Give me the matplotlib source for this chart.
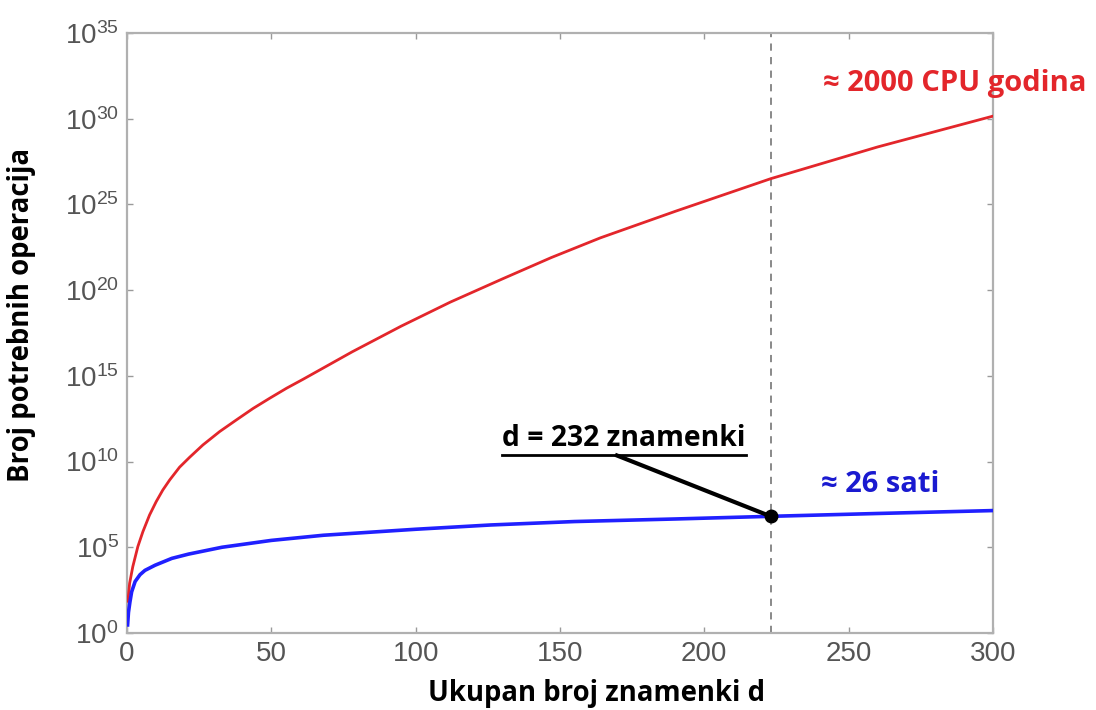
import numpy as np
import matplotlib
matplotlib.use('Agg')
import matplotlib.pyplot as plt
from matplotlib.lines import Line2D

# values (log10 of operation count)
d_red = [0.3, 0.9, 2.0, 3.75, 5.5, 7.8, 10.1, 12.4, 14.8, 18.2, 21.7, 26.3, 32.1, 37.9, 43.7,
         49.5, 55.3, 61, 78, 95, 112, 130, 147, 164, 190, 223, 260, 300]
log_red = [1.85, 2.9, 3.87, 5.04, 5.91, 6.88, 7.66, 8.34, 8.93, 9.67, 10.25, 10.97, 11.75, 12.43, 13.1,
           13.7, 14.28, 14.8, 16.4, 17.9, 19.3, 20.65, 21.9, 23.05, 24.6, 26.5, 28.35, 30.15]
d_blue = [0.2, 0.5, 1.0, 1.6, 2.8, 4.5, 6.2, 9.7, 15.5, 21.3, 32.9, 50, 68, 100, 126, 155, 190, 222, 260, 300]
log_blue = [0.47, 1.2, 1.8, 2.4, 3.0, 3.4, 3.65, 3.95, 4.35, 4.6, 5.0, 5.4, 5.7, 6.05, 6.3, 6.5, 6.65, 6.8, 6.97, 7.14]
d_mark = 223
x_ticks = [0, 50, 100, 150, 200, 250, 300]
y_exps = [0, 5, 10, 15, 20, 25, 30, 35]

red_txt = '≈ 2000 CPU godina'
blue_txt = '≈ 26 sati'
mark_txt = 'd = 232 znamenki'

fig = plt.figure(figsize=(10.96, 7.10), dpi=100)
ax = fig.add_axes([0.1159, 0.1085, 0.790, 0.845])

ax.plot(d_red, 10.0 ** np.array(log_red), color='#e3262b', lw=2.0, zorder=3)
ax.plot(d_blue, 10.0 ** np.array(log_blue), color='#2020ff', lw=2.6, zorder=3)
ax.axvline(d_mark, color='#808080', lw=1.3, ls=(0, (4, 3.5)), zorder=2)

ax.set_yscale('log')
ax.set_xlim(0, 300)
ax.set_ylim(1, 1e35)
ax.set_xticks(x_ticks)
ax.set_yticks([10.0 ** e for e in y_exps])
ax.set_yticklabels([r'$\mathdefault{10^{%d}}$' % e for e in y_exps])
ax.minorticks_off()
ax.tick_params(direction='in', length=4, width=1, colors='#9a9a9a',
               labelcolor='#555555', labelsize=20, top=True, right=True, pad=6)
for lab in ax.get_xticklabels() + ax.get_yticklabels():
    lab.set_family('Liberation Sans')
for sp in ax.spines.values():
    sp.set_color('#b0b0b0')
    sp.set_linewidth(1.6)

lab_font = dict(family='Open Sans', weight='bold', size=19.8)
fig.text(597 / 1096, 1 - 693 / 710, 'Ukupan broj znamenki d', ha='center', va='center', color='black', **lab_font)
fig.text(22 / 1096, 1 - 315 / 710, 'Broj potrebnih operacija', ha='center', va='center', rotation=90, color='black', **lab_font)

ann_font = dict(family='Open Sans', weight='bold', size=21)
fig.text(955 / 1096, 1 - 83 / 710, red_txt, ha='center', va='center', color='#e3262b', **ann_font)
fig.text(880 / 1096, 1 - 485 / 710, blue_txt, ha='center', va='center', color='#1a1ad0', **ann_font)

# marker point on blue curve, with leader line to the label
y_mark = 10 ** np.interp(d_mark, d_blue, log_blue)
ax.plot([d_mark], [y_mark], 'o', color='black', ms=9, zorder=5)
t = fig.text(624 / 1096, 1 - 439 / 710, mark_txt, ha='center', va='center', color='black',
             family='Open Sans', weight='bold', size=20.3)

fig.canvas.draw()
bb = t.get_window_extent()
uy = bb.y0 - 2
fig.add_artist(Line2D([bb.x0 / fig.bbox.width, bb.x1 / fig.bbox.width],
                      [uy / fig.bbox.height, uy / fig.bbox.height],
                      transform=fig.transFigure, color='black', lw=2))
# leader line from under the label to the dot
px, py = ax.transData.transform((d_mark, y_mark))
fig.add_artist(Line2D([617 / 1096, px / fig.bbox.width],
                      [uy / fig.bbox.height, py / fig.bbox.height],
                      transform=fig.transFigure, color='black', lw=3))

fig.savefig('out.png', dpi=100)
